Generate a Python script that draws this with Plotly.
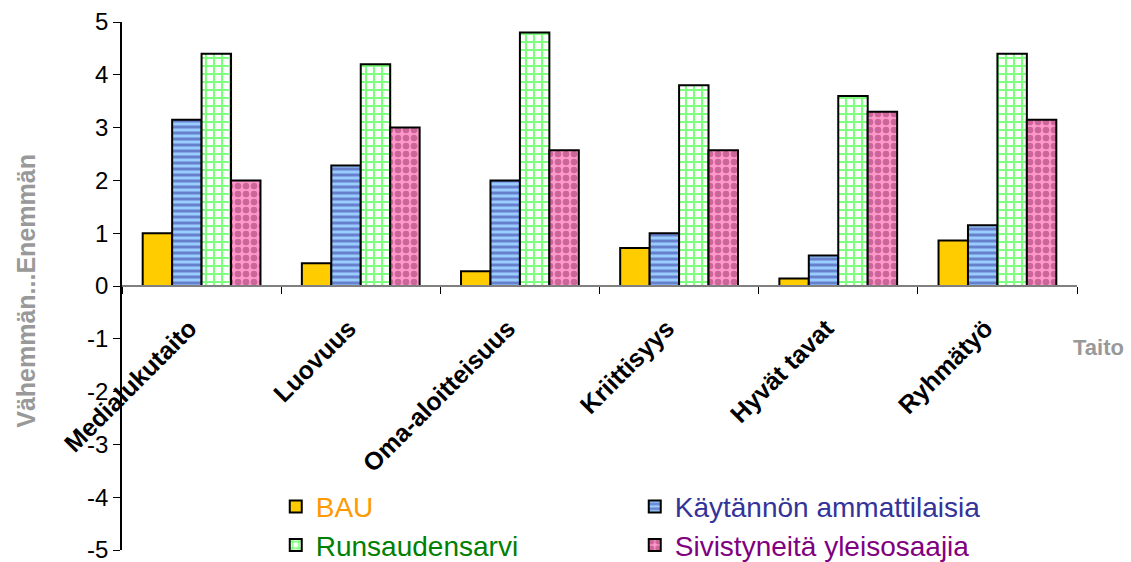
import plotly.graph_objects as go

categories = ["Medialukutaito", "Luovuus", "Oma-aloitteisuus", "Kriittisyys", "Hyvät tavat", "Ryhmätyö"]
bau = [1.0, 0.43, 0.28, 0.72, 0.14, 0.86]
kaytannon = [3.15, 2.28, 2.0, 1.0, 0.58, 1.15]
runsaudensarvi = [4.4, 4.2, 4.8, 3.8, 3.6, 4.4]
sivistyneita = [2.0, 3.0, 2.57, 2.57, 3.3, 3.15]
y_ticks = [-5, -4, -3, -2, -1, 0, 1, 2, 3, 4, 5]
y_ticktext = ["-5", "-4", "-3", "-2", "-1", "0", "1", "2", "3", "4", "5"]

FONT = "Arial, Liberation Sans, sans-serif"

fig = go.Figure()
fig.add_trace(go.Bar(
    x=categories, y=bau,
    name='<span style="color:#FF9900">BAU</span>',
    marker=dict(color="#FFCC00", line=dict(color="black", width=2)),
    legend="legend",
))
fig.add_trace(go.Bar(
    x=categories, y=kaytannon,
    name='<span style="color:#333399">Käytännön ammattilaisia</span>',
    marker=dict(color="#99CCFF", line=dict(color="black", width=2),
                pattern=dict(shape="-", fgcolor="#333399", bgcolor="#99CCFF",
                             size=6, solidity=0.5, fillmode="overlay")),
    legend="legend",
))
fig.add_trace(go.Bar(
    x=categories, y=runsaudensarvi,
    name='<span style="color:#008000">Runsaudensarvi</span>',
    marker=dict(color="white", line=dict(color="black", width=2),
                pattern=dict(shape="+", fgcolor="#00FF00", bgcolor="white",
                             size=8, solidity=0.45, fillmode="overlay")),
    legend="legend2",
))
fig.add_trace(go.Bar(
    x=categories, y=sivistyneita,
    name='<span style="color:#800080">Sivistyneitä yleisosaajia</span>',
    marker=dict(color="#FF99CC", line=dict(color="black", width=2),
                pattern=dict(shape=".", fgcolor="#993366", bgcolor="#FF99CC",
                             size=8, solidity=0.55, fillmode="overlay")),
    legend="legend2",
))

legend_common = dict(
    orientation="h", xanchor="left", yanchor="middle",
    bgcolor="rgba(0,0,0,0)", font=dict(family=FONT, size=28, color="black"),
    entrywidth=314, entrywidthmode="pixels", traceorder="normal",
)

fig.update_layout(
    width=1131, height=562,
    margin=dict(l=122, r=54, t=22, b=12, autoexpand=False),
    paper_bgcolor="white", plot_bgcolor="white",
    font=dict(family=FONT, color="black"),
    barmode="group", bargap=0.26, bargroupgap=0,
    showlegend=True,
    legend=dict(x=0.161, y=0.082, **legend_common),
    legend2=dict(x=0.161, y=0.009, **legend_common),
    xaxis=dict(
        type="category", anchor="free", position=0.5, automargin=False,
        showline=True, linecolor="#808080", linewidth=1.5,
        ticks="outside", tickson="boundaries", ticklen=7, tickcolor="black", tickwidth=1,
        tickangle=-45, ticklabelstandoff=17, ticklabelshift=-12,
        tickfont=dict(family=FONT, size=25, color="black", weight="bold"),
        showgrid=False, zeroline=False,
    ),
    yaxis=dict(
        range=[-5, 5], tickvals=y_ticks, ticktext=y_ticktext, automargin=False,
        ticklabeloverflow="allow",
        showline=True, linecolor="black", linewidth=1.5,
        ticks="outside", ticklen=7, tickcolor="black",
        tickfont=dict(family=FONT, size=24, color="black"),
        showgrid=False, zeroline=False,
    ),
    annotations=[
        dict(text="Vähemmän...Enemmän", xref="paper", yref="paper", x=-0.1, y=0.49,
             textangle=-90, showarrow=False, xanchor="center", yanchor="middle",
             font=dict(family=FONT, size=25, color="#999999", weight="bold")),
        dict(text="Taito", xref="paper", yref="paper", x=1.023, y=0.383,
             showarrow=False, xanchor="center", yanchor="middle",
             font=dict(family=FONT, size=22, color="#999999", weight="bold")),
    ],
    hovermode=False,
)

fig.write_html(
    "out.html",
    config={"displayModeBar": False},
    post_script="document.body.style.margin='0px';document.body.style.overflow='hidden';",
)
